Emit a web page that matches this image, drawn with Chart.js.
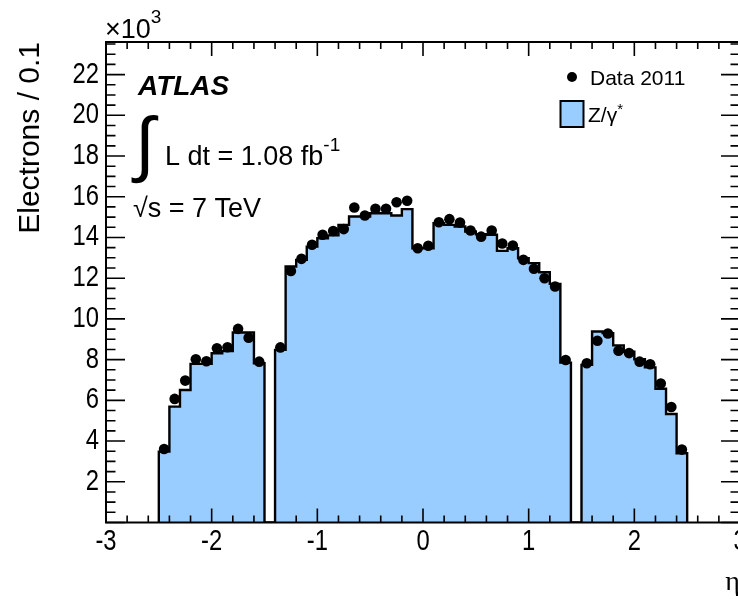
<!DOCTYPE html>
<html>
<head>
<meta charset="utf-8">
<script src="https://cdn.jsdelivr.net/npm/chart.js@4.4.1/dist/chart.umd.min.js"></script>
<style>
  html, body { margin: 0; padding: 0; background: #fff; overflow: hidden; }
  #wrap { width: 738px; height: 599px; overflow: hidden; position: relative; }
  canvas { display: block; }
</style>
</head>
<body>
<div id="wrap"><canvas id="c" width="760" height="599"></canvas></div>
<script>
// ---- data (electron counts in units of 10^3 per 0.1 in eta) ----
const etaEdges = [-2.5,-2.4,-2.3,-2.2,-2.1,-2.0,-1.9,-1.8,-1.7,-1.6,-1.5,-1.4,-1.3,-1.2,-1.1,-1.0,-0.9,-0.8,-0.7,-0.6,-0.5,-0.4,-0.3,-0.2,-0.1,0.0,0.1,0.2,0.3,0.4,0.5,0.6,0.7,0.8,0.9,1.0,1.1,1.2,1.3,1.4,1.5,1.6,1.7,1.8,1.9,2.0,2.1,2.2,2.3,2.4,2.5];
const zGammaMC = [3.48,5.69,6.51,7.79,7.79,8.31,8.42,9.33,9.33,7.82,
  0,
  8.48,12.57,12.90,13.55,13.96,14.10,14.62,15.03,15.03,15.19,15.19,15.08,15.39,13.47,
  13.47,14.70,14.62,14.54,14.29,14.16,14.13,13.34,13.47,12.98,12.74,12.29,11.72,7.85,
  0,
  7.74,9.38,9.30,8.70,8.39,8.02,7.62,6.57,5.33,3.40];
const data2011 = [3.61,6.07,6.97,8.02,7.92,8.56,8.61,9.51,9.08,7.90,
  null,
  8.60,12.35,12.95,13.64,14.13,14.32,14.41,15.47,15.08,15.41,15.41,15.73,15.80,13.47,
  13.59,14.75,14.90,14.73,14.34,14.04,14.34,13.70,13.60,12.90,12.46,12.00,11.59,7.98,
  null,
  7.82,8.93,9.28,8.44,8.32,7.90,7.77,6.83,5.67,3.58];
const xTickValues = [-3,-2,-1,0,1,2,3];
const yTickValues = [2,4,6,8,10,12,14,16,18,20,22];
const xRange = [-3, 3];
const yRange = [0, 23.6];
const xMinorStep = 0.2;
const yMinorStep = 0.5;

// ---- build library datasets from the arrays ----
const mcPoints = [{x: etaEdges[0], y: 0}];
zGammaMC.forEach((v, i) => mcPoints.push({x: etaEdges[i], y: v}));
mcPoints.push({x: etaEdges[etaEdges.length - 1], y: 0});

const dataPoints = [];
data2011.forEach((v, i) => {
  if (v !== null) dataPoints.push({x: (etaEdges[i] + etaEdges[i + 1]) / 2, y: v});
});

const FONT = "'Liberation Sans', Arial, Helvetica, sans-serif";
const TICK_SIZE = 29;
const TICK_CONDENSE = 0.82;   // axis labels are drawn in a condensed face
Chart.defaults.font.family = FONT;
Chart.defaults.color = '#000';

function drawRich(ctx, x, y, parts) {
  for (const p of parts) {
    ctx.font = p.font;
    ctx.fillText(p.t, x, y + (p.dy || 0));
    x += ctx.measureText(p.t).width + (p.gap || 0);
  }
}

const condensedTickLabels = {
  id: 'condensedTickLabels',
  afterLayout(chart) {
    ['x', 'y'].forEach(id => {
      const s = chart.scales[id];
      if (!s || s._condensed) return;
      const orig = s.drawLabels;
      s.drawLabels = function (area) {
        const ctx = this.ctx;
        const f = ctx.fillText;
        ctx.fillText = function (t, x, y) {
          this.save();
          this.translate(x, y);
          this.scale(TICK_CONDENSE, 1);
          f.call(this, t, 0, 0);
          this.restore();
        };
        try { orig.call(this, area); } finally { delete ctx.fillText; }
      };
      s._condensed = true;
    });
  }
};

const frameAndTicks = {
  id: 'frameAndTicks',
  afterDatasetsDraw(chart) {
    const {ctx, chartArea: a, scales: {x, y}} = chart;
    ctx.save();
    ctx.strokeStyle = '#000';
    ctx.lineWidth = 1.6;
    ctx.beginPath();
    const nx = Math.round((xRange[1] - xRange[0]) / xMinorStep);
    for (let k = 0; k <= nx; k++) {
      const v = xRange[0] + k * xMinorStep;
      const major = Math.abs(v - Math.round(v)) < 1e-6;
      const len = major ? 14 : 7;
      const px = x.getPixelForValue(v);
      ctx.moveTo(px, a.bottom); ctx.lineTo(px, a.bottom - len);
      ctx.moveTo(px, a.top); ctx.lineTo(px, a.top + len);
    }
    const ny = Math.floor((yRange[1] - yRange[0]) / yMinorStep + 1e-6);
    for (let k = 0; k <= ny; k++) {
      const v = yRange[0] + k * yMinorStep;
      const major = Math.abs(v / 2 - Math.round(v / 2)) < 1e-6;
      const len = major ? 19 : 9.5;
      const py = y.getPixelForValue(v);
      ctx.moveTo(a.left, py); ctx.lineTo(a.left + len, py);
      ctx.moveTo(a.right, py); ctx.lineTo(a.right - len, py);
    }
    ctx.stroke();
    ctx.lineWidth = 2;
    ctx.strokeRect(a.left, a.top, a.right - a.left, a.bottom - a.top);
    ctx.restore();
  },
  afterDraw(chart) {
    const ctx = chart.ctx;
    ctx.save();
    ctx.fillStyle = '#000';
    ctx.textBaseline = 'alphabetic';
    ctx.textAlign = 'left';
    // exponent label
    drawRich(ctx, 105, 38, [
      {t: '\u00d710', font: '27px ' + FONT},
      {t: '3', font: '19px ' + FONT, dy: -15}
    ]);
    // ATLAS label
    ctx.font = 'bold italic 28px ' + FONT;
    ctx.fillText('ATLAS', 138, 95);
    // luminosity
    ctx.font = '72px ' + FONT;
    ctx.fillText('\u222b', 135, 168);
    drawRich(ctx, 165, 165, [
      {t: 'L dt = 1.08 fb', font: '27px ' + FONT},
      {t: '-1', font: '19px ' + FONT, dy: -14}
    ]);
    ctx.font = '27px ' + FONT;
    ctx.fillText('\u221as = 7 TeV', 133, 217);
    // legend
    ctx.beginPath();
    ctx.arc(572, 77, 5, 0, Math.PI * 2);
    ctx.fill();
    ctx.font = '21px ' + FONT;
    ctx.fillText('Data 2011', 590, 85);
    ctx.fillStyle = '#99ccff';
    ctx.fillRect(560.5, 101, 23, 26);
    ctx.strokeStyle = '#000';
    ctx.lineWidth = 2;
    ctx.strokeRect(560.5, 101, 23, 26);
    ctx.fillStyle = '#000';
    drawRich(ctx, 588, 122, [
      {t: 'Z/\u03b3', font: '21px ' + FONT},
      {t: '*', font: '15px ' + FONT, dy: -8}
    ]);
    ctx.restore();
  }
};

new Chart(document.getElementById('c'), {
  type: 'scatter',
  data: {
    datasets: [
      {
        label: 'Data 2011',
        type: 'scatter',
        data: dataPoints,
        pointRadius: 5.3,
        pointHoverRadius: 5.3,
        pointBackgroundColor: '#000',
        pointBorderColor: '#000',
        pointBorderWidth: 0,
        order: 0
      },
      {
        label: 'Z/\u03b3*',
        type: 'line',
        data: mcPoints,
        stepped: true,
        fill: 'origin',
        backgroundColor: '#99ccff',
        borderColor: '#000',
        borderWidth: 2.4,
        pointRadius: 0,
        tension: 0,
        borderJoinStyle: 'miter',
        order: 1
      }
    ]
  },
  options: {
    responsive: false,
    animation: false,
    events: [],
    layout: { padding: { top: 42, right: 20, left: 0, bottom: 0 } },
    plugins: { legend: { display: false }, tooltip: { enabled: false } },
    scales: {
      x: {
        type: 'linear',
        min: xRange[0],
        max: xRange[1],
        grid: { display: false, drawTicks: false },
        border: { display: false },
        afterBuildTicks: (s) => { s.ticks = xTickValues.map(v => ({value: v})); },
        afterFit: (s) => { s.height = 76.5; },
        ticks: {
          font: { size: TICK_SIZE },
          padding: 2,
          maxRotation: 0,
          autoSkip: false,
          callback: (v) => String(v)
        },
        title: {
          display: true,
          text: '\u03b7',
          align: 'end',
          font: { family: "'Liberation Serif', serif", size: 28 },
          padding: { top: 0, bottom: 0 }
        }
      },
      y: {
        type: 'linear',
        min: yRange[0],
        max: yRange[1],
        grid: { display: false, drawTicks: false },
        border: { display: false },
        afterBuildTicks: (s) => { s.ticks = yTickValues.map(v => ({value: v})); },
        afterFit: (s) => { s.width = 106; },
        ticks: {
          font: { size: TICK_SIZE },
          padding: 7,
          autoSkip: false,
          callback: (v) => String(v)
        },
        title: {
          display: true,
          text: 'Electrons / 0.1',
          align: 'end',
          font: { size: 30 },
          padding: { top: 13, bottom: 0 }
        }
      }
    }
  },
  plugins: [condensedTickLabels, frameAndTicks]
});
</script>
</body>
</html>
